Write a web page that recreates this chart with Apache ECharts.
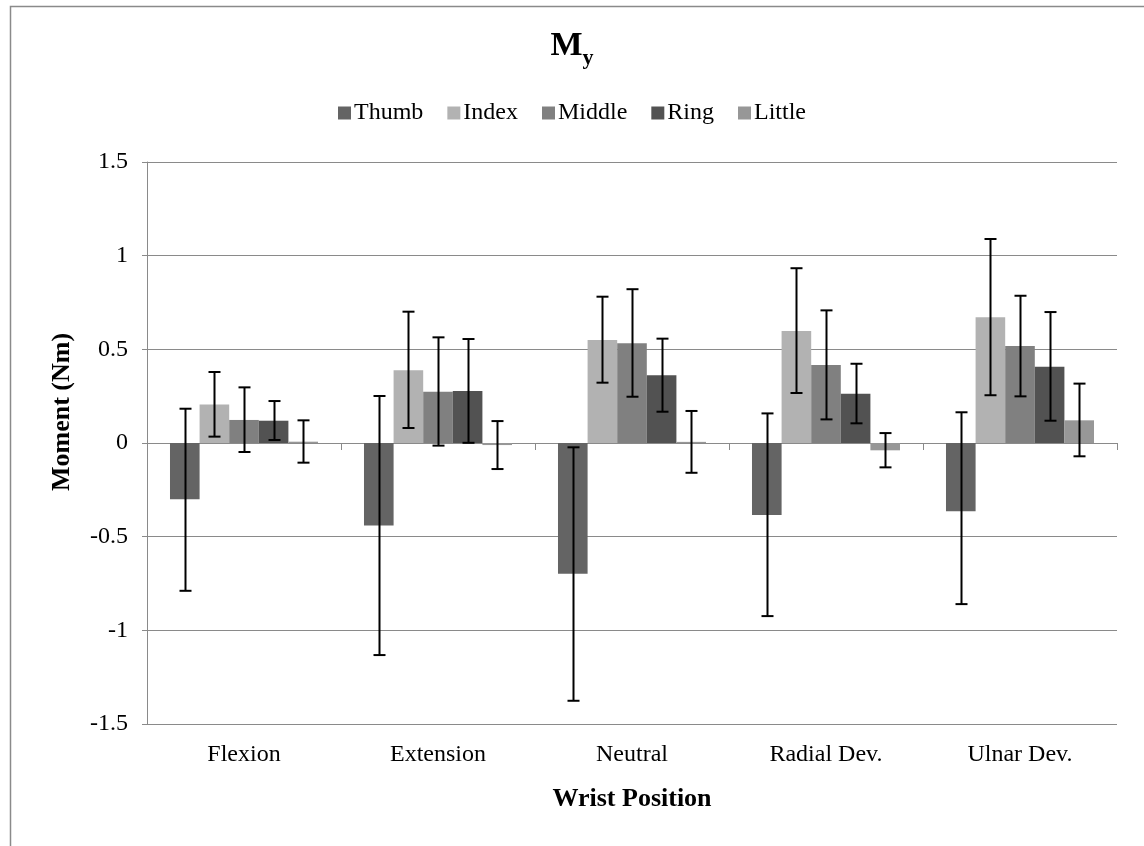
<!DOCTYPE html>
<html>
<head>
<meta charset="utf-8">
<script src="https://cdn.jsdelivr.net/npm/echarts@6/dist/echarts.min.js"></script>
<style>html,body{margin:0;padding:0;background:#fff;}#c{width:1144px;height:846px;}</style>
</head>
<body>
<div id="c"></div>
<script>
var categories = ['Flexion', 'Extension', 'Neutral', 'Radial Dev.', 'Ulnar Dev.'];
var seriesNames = ['Thumb', 'Index', 'Middle', 'Ring', 'Little'];
var yTicks = [-1.5, -1, -0.5, 0, 0.5, 1, 1.5];

var thumb  = [-0.300, -0.441, -0.698, -0.384, -0.364];
var index  = [0.205, 0.388, 0.550, 0.598, 0.671];
var middle = [0.123, 0.274, 0.532, 0.416, 0.518];
var ring   = [0.119, 0.278, 0.361, 0.263, 0.407];
var little = [0.007, -0.011, 0.006, -0.039, 0.121];

var thumbLow   = [-0.789, -1.132, -1.376, -0.924, -0.860];
var thumbHigh  = [0.183, 0.251, -0.023, 0.158, 0.164];
var indexLow   = [0.034, 0.080, 0.322, 0.267, 0.255];
var indexHigh  = [0.379, 0.701, 0.781, 0.933, 1.089];
var middleLow  = [-0.048, -0.014, 0.247, 0.126, 0.249];
var middleHigh = [0.297, 0.564, 0.821, 0.708, 0.786];
var ringLow    = [0.016, 0.001, 0.167, 0.105, 0.119];
var ringHigh   = [0.224, 0.555, 0.557, 0.423, 0.699];
var littleLow  = [-0.105, -0.139, -0.159, -0.130, -0.071];
var littleHigh = [0.121, 0.117, 0.171, 0.053, 0.317];

var colors = ['#646464', '#b2b2b2', '#808080', '#525252', '#979797'];
var values = [thumb, index, middle, ring, little];
var lows = [thumbLow, indexLow, middleLow, ringLow, littleLow];
var highs = [thumbHigh, indexHigh, middleHigh, ringHigh, littleHigh];

var FONT = '"Liberation Serif", "Times New Roman", serif';
var CAT_GAP = 0.237;
var GRID_COLOR = '#8a8a8a';

var chart = echarts.init(document.getElementById('c'), null, {renderer: 'canvas'});

var series = [];
seriesNames.forEach(function (name, i) {
  series.push({
    name: name,
    type: 'bar',
    xAxisIndex: 0,
    data: values[i],
    barGap: 0,
    barCategoryGap: (CAT_GAP * 100) + '%',
    itemStyle: {color: colors[i]},
    z: 2
  });
});
seriesNames.forEach(function (name, i) {
  var data = categories.map(function (c, k) { return [k, lows[i][k], highs[i][k]]; });
  series.push({
    type: 'custom',
    xAxisIndex: 0,
    z: 5,
    silent: true,
    data: data,
    renderItem: function (params, api) {
      var k = api.value(0);
      var lo = api.coord([k, api.value(1)]);
      var hi = api.coord([k, api.value(2)]);
      var band = api.size([1, 0])[0];
      var bw = band * (1 - CAT_GAP) / seriesNames.length;
      var x = Math.round(lo[0] + (i - (seriesNames.length - 1) / 2) * bw) + 0.5;
      var cap = 6;
      var st = {stroke: '#000', lineWidth: 2};
      return {
        type: 'group',
        children: [
          {type: 'line', shape: {x1: x, y1: lo[1], x2: x, y2: hi[1]}, style: st},
          {type: 'line', shape: {x1: x - cap, y1: lo[1], x2: x + cap, y2: lo[1]}, style: st},
          {type: 'line', shape: {x1: x - cap, y1: hi[1], x2: x + cap, y2: hi[1]}, style: st}
        ]
      };
    }
  });
});

var option = {
  backgroundColor: '#fff',
  animation: false,
  title: {
    text: '{m|M}{s|y}',
    left: 'center',
    top: 18,
    textStyle: {
      rich: {
        m: {fontFamily: FONT, fontSize: 34, fontWeight: 'bold', color: '#000'},
        s: {fontFamily: FONT, fontSize: 22, fontWeight: 'bold', color: '#000', padding: [24, 0, 0, 0]}
      }
    }
  },
  legend: {
    data: seriesNames,
    top: 96,
    left: 'center',
    icon: 'rect',
    itemWidth: 13,
    itemHeight: 13,
    itemGap: 24,
    textStyle: {fontFamily: FONT, fontSize: 24, color: '#000', padding: [0, 0, 0, -2]}
  },
  grid: {left: 147, right: 27, top: 162, bottom: 122, containLabel: false},
  xAxis: [
    {
      type: 'category',
      data: categories,
      position: 'bottom',
      axisLine: {show: true, onZero: true, lineStyle: {color: GRID_COLOR, width: 1}},
      axisTick: {show: true, length: 7, lineStyle: {color: GRID_COLOR}},
      axisLabel: {show: false},
      splitLine: {show: false}
    },
    {
      type: 'category',
      data: categories,
      position: 'bottom',
      axisLine: {show: false, onZero: false},
      axisTick: {show: false},
      axisLabel: {show: true, fontFamily: FONT, fontSize: 24, color: '#000', margin: 19},
      name: 'Wrist Position',
      nameLocation: 'middle',
      nameGap: 62,
      nameTextStyle: {fontFamily: FONT, fontSize: 26, fontWeight: 'bold', color: '#000'}
    }
  ],
  yAxis: {
    type: 'value',
    min: yTicks[0],
    max: yTicks[yTicks.length - 1],
    interval: 0.5,
    axisLine: {show: true, lineStyle: {color: GRID_COLOR}},
    axisTick: {show: true, length: 5, lineStyle: {color: GRID_COLOR}},
    axisLabel: {fontFamily: FONT, fontSize: 24, color: '#000', margin: 19,
      formatter: function (v) { return String(v); }},
    splitLine: {show: true, lineStyle: {color: GRID_COLOR, width: 1}}
  },
  graphic: [
    {
      type: 'rect',
      left: 8, top: 4,
      shape: {width: 1200, height: 900},
      style: {fill: 'none', stroke: '#8a8a8a', lineWidth: 1.5},
      z: -1
    },
    {
      type: 'text',
      x: 62, y: 412,
      rotation: Math.PI / 2,
      style: {text: 'Moment (Nm)', fontFamily: FONT, fontSize: 26, fontWeight: 'bold', fill: '#000',
        align: 'center', verticalAlign: 'middle'}
    }
  ],
  series: series
};
chart.setOption(option);
</script>
</body>
</html>
